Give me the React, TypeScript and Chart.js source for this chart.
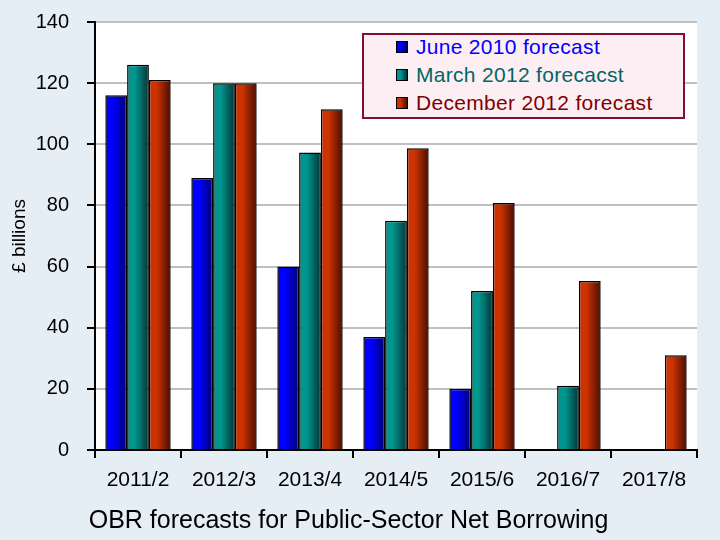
import React, { useEffect, useRef } from "react";
import { Chart, registerables, ChartConfiguration, Plugin } from "chart.js";

Chart.register(...registerables);

// ---- data ----
const years = ["2011/2", "2012/3", "2013/4", "2014/5", "2015/6", "2016/7", "2017/8"];
const june2010 = [116, 89, 60, 37, 20, null, null];
const march2012 = [126, 120, 97.3, 75, 52, 21, null];
const december2012 = [121, 120, 111.5, 98.7, 80.8, 55.3, 31];
const yTicks = [0, 20, 40, 60, 80, 100, 120, 140];

const FONT = "'Liberation Sans', Arial, sans-serif";
const PAGE_BG = "#e5edf5";

// light / dark ends of each bar's shading
const shades = [
  { light: "#0000ff", dark: "#000070", text: "#0000ff" },
  { light: "#009690", dark: "#003535", text: "#006666" },
  { light: "#cc3300", dark: "#4a0e00", text: "#800000" },
];

const legendItems = [
  "June 2010 forecast",
  "March 2012 forecacst",
  "December 2012 forecast",
];

// fills the canvas and the plot area before anything else is drawn
const backgrounds: Plugin = {
  id: "backgrounds",
  beforeDraw(chart) {
    const { ctx, chartArea, width, height } = chart;
    ctx.save();
    ctx.fillStyle = PAGE_BG;
    ctx.fillRect(0, 0, width, height);
    ctx.fillStyle = "#ffffff";
    ctx.fillRect(chartArea.left, chartArea.top, chartArea.right - chartArea.left, chartArea.bottom - chartArea.top);
    ctx.restore();
  },
};

function barFill(i: number) {
  return (c: any) => {
    const el = c.element;
    if (!el || el.x == null || el.width == null || isNaN(el.x)) return shades[i].light;
    const g = c.chart.ctx.createLinearGradient(el.x - el.width / 2, 0, el.x + el.width / 2, 0);
    g.addColorStop(0, shades[i].light);
    g.addColorStop(0.35, shades[i].light);
    g.addColorStop(1, shades[i].dark);
    return g;
  };
}

export default function App() {
  const canvasRef = useRef<HTMLCanvasElement>(null);
  const chartRef = useRef<Chart | null>(null);

  useEffect(() => {
    if (!canvasRef.current) return;
    if (chartRef.current) chartRef.current.destroy();

    const series = [june2010, march2012, december2012];

    const config: ChartConfiguration<"bar"> = {
      type: "bar",
      data: {
        labels: years,
        datasets: series.map((d, i) => ({
          label: legendItems[i],
          data: d as (number | null)[],
          backgroundColor: barFill(i),
          borderColor: "#000000",
          borderWidth: 1.5,
          borderSkipped: "bottom",
          categoryPercentage: 0.76,
          barPercentage: 1,
        })),
      },
      options: {
        responsive: false,
        animation: false,
        layout: { padding: { top: 22, right: 23, left: 0, bottom: 0 } },
        plugins: {
          legend: { display: false },
          tooltip: { enabled: false },
          title: {
            display: true,
            position: "bottom",
            text: "OBR forecasts for Public-Sector Net Borrowing",
            color: "#000000",
            font: { family: FONT, size: 25, weight: "normal" },
            padding: { top: 0, bottom: 4 },
          },
        },
        scales: {
          x: {
            offset: true,
            grid: {
              display: true,
              offset: true,
              drawOnChartArea: false,
              drawTicks: true,
              tickLength: 8,
              color: "#000000",
              lineWidth: 2,
            },
            border: { display: true, color: "#000000", width: 2 },
            ticks: {
              color: "#000000",
              font: { family: FONT, size: 21 },
              padding: 10,
              maxRotation: 0,
            },
            afterFit(scale) {
              scale.height = 56;
            },
          },
          y: {
            min: 0,
            max: 140,
            afterBuildTicks(scale) {
              scale.ticks = yTicks.map((v) => ({ value: v }));
            },
            grid: {
              color: "#c0c0c0",
              lineWidth: 2,
              tickLength: 8,
              tickColor: "#000000",
              tickWidth: 2,
            },
            border: { display: true, color: "#000000", width: 2 },
            ticks: {
              color: "#000000",
              font: { family: FONT, size: 20 },
              padding: 18,
            },
            title: {
              display: true,
              text: "£ billions",
              color: "#000000",
              font: { family: FONT, size: 19 },
              padding: { top: 8, bottom: 0 },
            },
            afterFit(scale: any) {
              scale.width = 95;
              scale.paddingTop = 0;
              scale.paddingBottom = 0;
            },
          },
        },
      },
      plugins: [backgrounds],
    };

    chartRef.current = new Chart(canvasRef.current, config);
    // second pass so the gradient can use the bar positions
    chartRef.current.update();

    return () => {
      if (chartRef.current) {
        chartRef.current.destroy();
        chartRef.current = null;
      }
    };
  }, []);

  return (
    <div
      style={{
        position: "fixed",
        left: 0,
        top: 0,
        width: 720,
        height: 540,
        background: PAGE_BG,
        fontFamily: FONT,
      }}
    >
      <canvas ref={canvasRef} width={720} height={540} style={{ display: "block" }} />
      <div
        style={{
          position: "absolute",
          left: 362,
          top: 33,
          width: 323,
          height: 86,
          boxSizing: "border-box",
          background: "#fdeef3",
          border: "2px solid #7f1030",
        }}
      >
        {legendItems.map((name, i) => (
          <div
            key={name}
            style={{
              position: "absolute",
              left: 32,
              top: i * 28 - 2,
              height: 28,
              display: "flex",
              alignItems: "center",
              whiteSpace: "nowrap",
            }}
          >
            <span
              style={{
                display: "inline-block",
                width: 12,
                height: 12,
                boxSizing: "border-box",
                border: "1px solid #000",
                background: `linear-gradient(to right, ${shades[i].light} 35%, ${shades[i].dark})`,
                marginRight: 8,
              }}
            />
            <span
              style={{
                color: shades[i].text,
                fontSize: 21,
                letterSpacing: 0.3,
                lineHeight: "28px",
              }}
            >
              {name}
            </span>
          </div>
        ))}
      </div>
    </div>
  );
}
